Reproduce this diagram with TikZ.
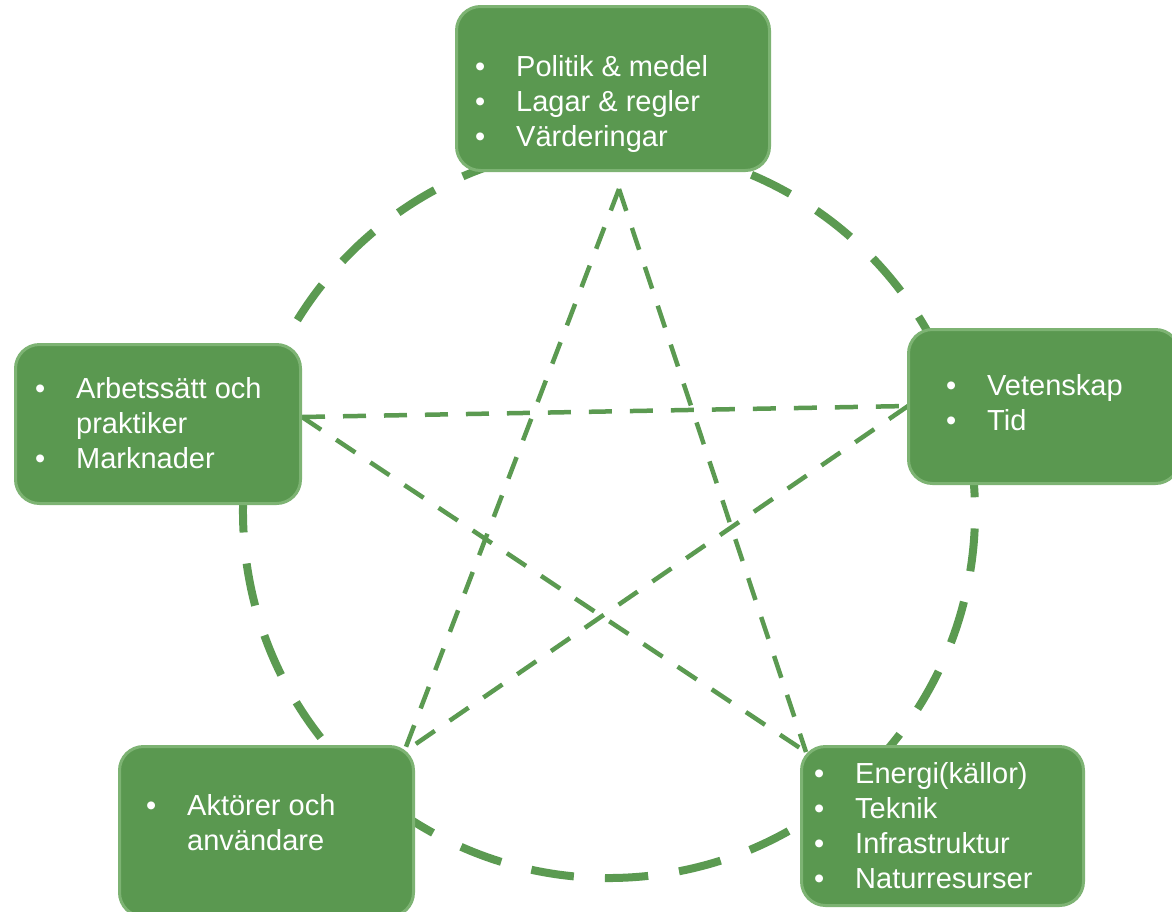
\documentclass[tikz,border=0pt]{standalone}
\usepackage{fontspec}
\setmainfont{Liberation Sans}
\definecolor{gfill}{HTML}{5A9850}
\definecolor{gline}{HTML}{5B9A51}
\definecolor{gborder}{HTML}{7DB373}
\newcommand\blt{\makebox[41pt][l]{•}}
\begin{document}
\begin{tikzpicture}[x=1pt,y=-1pt,
 box/.style={draw=gborder, line width=3pt, fill=gfill, rounded corners=24pt, inner sep=0pt, outer sep=0pt},
 txt/.style={text=white, inner sep=0pt, anchor=base west, font=\fontsize{29}{35}\selectfont},
 ring/.style={draw=gline, line width=8pt, dash pattern=on 43pt off 31.18pt},
 star/.style={draw=gline, line width=4.5pt, dash pattern=on 23pt off 18pt}]
\useasboundingbox (0,0) rectangle (1172,911);
% circle
\coordinate (cc) at (609,512);
\draw[ring] ([shift={(83.9:366)}]cc) arc[start angle=83.9, end angle=443.9, radius=366];
% star points
\coordinate (pA) at (619,189);
\coordinate (pL) at (302,417);
\coordinate (pR) at (908,406);
\coordinate (pBL) at (404,752);
\coordinate (pBR) at (806,752);
\draw[star] (pA) -- (pBL);
\draw[star] (pA) -- (pBR);
\draw[star] (pL) -- (pR);
\draw[star] (pL) -- (pBR);
\draw[star] (pR) -- (pBL);
% boxes
\node[box, minimum width=313pt, minimum height=164pt] (btop) at (613,88.5) {};
\node[box, minimum width=271pt, minimum height=154pt] (bright) at (1044,406.5) {};
\node[box, minimum width=285pt, minimum height=159pt] (bleft) at (158,424) {};
\node[box, minimum width=294pt, minimum height=170pt] (bbl) at (266.5,831.5) {};
\node[box, minimum width=282pt, minimum height=159pt] (bbr) at (942.5,826) {};
% texts
\node[txt] (ttop) at (475,76) {\begin{tabular}[t]{@{}l@{}l@{}}\blt&Politik \& medel\\\blt&Lagar \& regler\\\blt&Värderingar\end{tabular}};
\node[txt] (tleft) at (35,398) {\begin{tabular}[t]{@{}l@{}l@{}}\blt&Arbetssätt och\\&praktiker\\\blt&Marknader\end{tabular}};
\node[txt] (tright) at (946,395) {\begin{tabular}[t]{@{}l@{}l@{}}\blt&Vetenskap\\\blt&Tid\end{tabular}};
\node[txt] (tbl) at (146,815) {\begin{tabular}[t]{@{}l@{}l@{}}\blt&Aktörer och\\&användare\end{tabular}};
\node[txt] (tbr) at (814,783) {\begin{tabular}[t]{@{}l@{}l@{}}\blt&Energi(källor)\\\blt&Teknik\\\blt&Infrastruktur\\\blt&Naturresurser\end{tabular}};
\end{tikzpicture}
\end{document}
